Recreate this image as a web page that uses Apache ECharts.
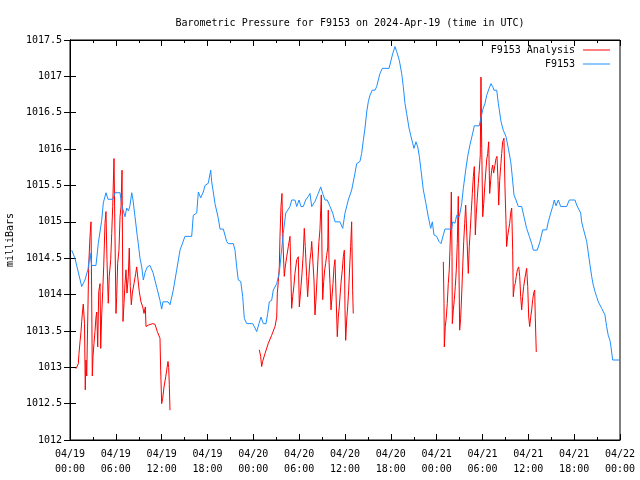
<!DOCTYPE html>
<html>
<head>
<meta charset="utf-8">
<script src="https://cdn.jsdelivr.net/npm/echarts@6/dist/echarts.min.js"></script>
<style>html,body{margin:0;padding:0;background:#fff}#c{width:640px;height:480px}</style>
</head>
<body>
<div id="c"></div>
<script>
// Hours since 2024-04-19 00:00 UTC
var blueHours = [0.22,0.65,1.53,1.96,2.36,2.62,2.84,3.4,3.7,4.15,4.36,4.71,4.97,5.63,5.89,6.55,6.77,7.2,7.42,7.66,7.85,8.08,8.25,8.51,8.81,8.94,9.16,9.39,9.6,9.82,10.12,10.47,10.87,11.35,11.78,12.0,12.17,12.83,13.09,13.52,13.97,14.4,15.05,15.93,16.14,16.59,16.8,17.11,17.45,17.67,18.1,18.42,18.55,18.76,18.98,19.41,19.64,20.07,20.51,20.72,21.38,21.6,21.82,22.03,22.35,22.61,22.82,23.13,23.92,24.22,24.44,24.74,25.0,25.31,25.66,25.88,26.09,26.4,26.61,27.06,27.4,27.92,28.24,28.5,28.8,29.02,29.45,29.68,29.98,30.24,30.54,30.85,31.2,31.42,31.64,32.07,32.5,32.82,33.08,33.38,33.68,34.04,34.39,34.69,35.34,35.7,36.0,36.43,36.88,37.31,37.53,37.96,38.18,38.4,38.62,38.84,39.05,39.27,39.57,39.93,40.15,40.36,40.58,40.88,41.76,41.98,42.24,42.54,42.77,43.11,43.42,43.63,43.85,44.07,44.38,44.6,44.86,45.03,45.29,45.52,45.73,45.95,46.25,46.6,46.9,47.22,47.43,47.65,48.0,48.3,48.57,48.87,49.09,49.97,50.1,50.4,50.62,50.96,51.28,51.49,51.8,52.06,52.36,52.72,52.92,53.58,53.76,54.03,54.33,54.55,54.85,55.11,55.33,55.5,55.86,56.07,56.2,56.42,56.72,57.08,57.38,57.69,57.9,58.12,58.38,58.69,59.13,59.43,59.78,60.13,60.44,60.65,61.17,61.53,61.88,62.4,62.61,62.93,63.19,63.4,63.62,63.92,64.24,65.02,65.36,66.11,66.33,66.54,66.85,66.98,67.19,67.42,67.64,67.85,68.07,68.29,68.5,68.73,68.94,69.16,69.38,69.6,69.81,70.03,70.25,70.46,70.69,70.82,71.04,72.0];
var blueValues = [1014.61,1014.5,1014.11,1014.2,1014.35,1014.57,1014.4,1014.4,1014.7,1015.02,1015.26,1015.4,1015.31,1015.31,1015.4,1015.4,1015.23,1015.07,1015.19,1015.15,1015.22,1015.4,1015.3,1015.07,1014.8,1014.7,1014.5,1014.38,1014.2,1014.3,1014.38,1014.4,1014.3,1014.1,1013.92,1013.8,1013.9,1013.9,1013.86,1014.06,1014.34,1014.61,1014.8,1014.8,1015.09,1015.12,1015.41,1015.33,1015.41,1015.5,1015.53,1015.71,1015.55,1015.41,1015.25,1015.05,1014.9,1014.9,1014.73,1014.7,1014.7,1014.61,1014.38,1014.2,1014.18,1013.97,1013.67,1013.6,1013.6,1013.54,1013.49,1013.6,1013.69,1013.6,1013.6,1013.74,1013.9,1013.92,1014.06,1014.15,1014.3,1014.84,1015.12,1015.16,1015.21,1015.3,1015.3,1015.21,1015.3,1015.21,1015.21,1015.3,1015.35,1015.39,1015.21,1015.28,1015.39,1015.48,1015.39,1015.3,1015.3,1015.21,1015.12,1015.0,1015.0,1014.91,1015.12,1015.3,1015.44,1015.67,1015.8,1015.83,1015.94,1016.12,1016.29,1016.51,1016.65,1016.74,1016.81,1016.81,1016.86,1016.95,1017.04,1017.11,1017.11,1017.2,1017.31,1017.41,1017.34,1017.22,1017.04,1016.86,1016.63,1016.49,1016.29,1016.19,1016.08,1016.01,1016.1,1016.03,1015.9,1015.71,1015.44,1015.25,1015.07,1014.91,1015.0,1014.82,1014.8,1014.73,1014.7,1014.82,1014.9,1014.9,1015.0,1014.98,1015.09,1015.07,1015.25,1015.46,1015.71,1015.9,1016.06,1016.22,1016.32,1016.32,1016.41,1016.54,1016.63,1016.74,1016.83,1016.9,1016.86,1016.81,1016.81,1016.63,1016.54,1016.38,1016.26,1016.17,1016.01,1015.83,1015.62,1015.37,1015.3,1015.21,1015.21,1015.07,1014.91,1014.8,1014.7,1014.61,1014.61,1014.73,1014.89,1014.89,1015.0,1015.12,1015.21,1015.3,1015.22,1015.3,1015.21,1015.21,1015.3,1015.3,1015.23,1015.21,1015.12,1015.0,1014.91,1014.91,1014.73,1014.57,1014.41,1014.25,1014.13,1014.04,1013.97,1013.9,1013.9,1013.81,1013.79,1013.72,1013.56,1013.44,1013.37,1013.28,1013.1,1013.1];

// Analysis series: null marks a gap in the record
var redHours = [0.79,1.09,1.18,1.31,1.44,1.53,1.66,1.74,1.9,2.0,2.09,2.19,2.32,2.45,2.62,2.75,2.84,2.92,3.01,3.14,3.27,3.4,3.5,3.63,3.76,3.93,4.02,4.15,4.28,4.41,4.58,4.71,4.84,5.01,5.14,5.33,5.46,5.59,5.76,5.89,6.02,6.11,6.24,6.41,6.55,6.68,6.81,6.94,7.07,7.2,7.33,7.46,7.63,7.76,7.89,8.03,8.16,8.38,8.6,8.73,8.94,9.07,9.29,9.52,9.69,9.86,9.95,10.25,10.83,11.13,11.43,11.78,11.87,12.0,12.13,12.31,12.53,12.66,12.83,12.92,13.0,13.09,
  18.0,
  24.78,24.96,25.09,25.22,25.53,25.96,26.4,26.84,27.06,27.14,27.27,27.4,27.49,27.62,27.75,27.84,27.92,28.05,28.18,28.37,28.58,28.8,28.89,29.02,29.15,29.32,29.45,29.68,29.89,30.02,30.2,30.37,30.54,30.67,30.8,30.98,31.11,31.24,31.42,31.55,31.64,31.85,31.94,32.07,32.2,32.33,32.46,32.59,32.72,32.82,32.9,32.99,33.08,33.21,33.34,33.47,33.6,33.74,33.81,33.9,34.04,34.17,34.3,34.43,34.56,34.69,34.82,34.99,35.12,35.25,35.38,35.51,35.65,35.78,35.91,36.0,36.09,36.22,36.35,36.48,36.61,36.74,36.87,37.0,37.08,
  43.0,
  48.87,48.96,49.0,49.13,49.26,49.39,49.52,49.65,49.84,49.92,50.01,50.05,50.18,50.31,50.44,50.57,50.7,50.83,50.92,51.01,51.14,51.28,51.41,51.54,51.67,51.8,52.06,52.14,52.27,52.4,52.53,52.67,52.8,52.93,53.06,53.19,53.32,53.45,53.58,53.71,53.8,53.9,54.03,54.16,54.29,54.42,54.55,54.68,54.81,54.94,55.07,55.2,55.33,55.46,55.63,55.77,55.9,56.03,56.12,56.25,56.38,56.51,56.64,56.81,56.94,57.07,57.16,57.29,57.42,57.56,57.69,57.82,57.95,58.03,58.16,58.29,58.42,58.56,58.74,58.87,59.0,59.13,59.26,59.39,59.52,59.65,59.78,59.92,60.05,60.18,60.31,60.44,60.57,60.7,60.83,60.91,61.04];
var redValues = [1012.98,1013.05,1013.19,1013.35,1013.49,1013.63,1013.79,1013.87,1013.6,1012.69,1013.1,1012.88,1013.65,1014.4,1014.8,1015.0,1013.95,1012.88,1013.15,1013.33,1013.49,1013.69,1013.76,1013.28,1014.04,1014.15,1013.26,1013.72,1014.04,1014.38,1014.98,1015.14,1014.48,1013.88,1014.25,1014.48,1014.84,1015.21,1015.87,1014.8,1013.74,1013.97,1014.43,1014.61,1015.07,1015.21,1015.71,1013.63,1013.88,1014.15,1014.34,1014.02,1014.25,1014.64,1014.11,1013.86,1014.02,1014.15,1014.29,1014.38,1014.38,1014.04,1013.9,1013.83,1013.74,1013.83,1013.56,1013.58,1013.6,1013.59,1013.49,1013.4,1012.96,1012.5,1012.57,1012.73,1012.87,1012.96,1013.08,1013.0,1012.76,1012.41,
  null,
  1013.24,1013.15,1013.01,1013.08,1013.19,1013.33,1013.44,1013.56,1013.69,1014.02,1014.18,1014.38,1014.8,1015.21,1015.39,1014.84,1014.61,1014.25,1014.38,1014.52,1014.66,1014.8,1014.38,1013.81,1013.97,1014.13,1014.29,1014.48,1014.52,1013.83,1014.06,1014.29,1014.57,1014.91,1014.66,1014.25,1013.97,1014.2,1014.48,1014.59,1014.73,1014.73,1014.2,1013.72,1013.93,1014.2,1014.48,1014.73,1014.89,1015.16,1015.37,1014.57,1013.93,1014.18,1014.34,1014.43,1014.54,1014.64,1015.16,1014.48,1014.15,1013.79,1013.97,1014.15,1014.38,1014.48,1014.02,1013.42,1013.69,1013.83,1014.02,1014.2,1014.34,1014.52,1014.61,1013.79,1013.37,1013.65,1013.83,1014.06,1014.38,1014.66,1015.0,1014.06,1013.74,
  null,
  1014.45,1013.88,1013.28,1013.56,1013.69,1013.88,1014.15,1014.34,1014.93,1015.41,1014.52,1013.6,1013.79,1013.93,1014.11,1014.34,1014.7,1015.35,1014.34,1013.51,1013.67,1014.02,1014.38,1014.73,1014.98,1015.23,1015.23,1014.29,1014.66,1014.89,1015.14,1015.39,1015.62,1015.76,1014.82,1015.12,1015.33,1015.53,1015.71,1015.92,1016.99,1016.01,1015.07,1015.25,1015.48,1015.67,1015.85,1015.94,1016.1,1015.39,1015.57,1015.71,1015.78,1015.67,1015.78,1015.87,1015.9,1015.57,1015.23,1015.57,1015.76,1015.94,1016.1,1016.15,1015.48,1015.02,1014.66,1014.8,1014.89,1014.98,1015.12,1015.19,1014.61,1013.97,1014.11,1014.15,1014.25,1014.34,1014.38,1014.25,1013.97,1013.79,1013.97,1014.11,1014.2,1014.29,1014.36,1014.11,1013.69,1013.56,1013.69,1013.79,1013.93,1014.02,1014.06,1013.69,1013.21];

var xTickLabels = ['04/19\n00:00','04/19\n06:00','04/19\n12:00','04/19\n18:00','04/20\n00:00','04/20\n06:00','04/20\n12:00','04/20\n18:00','04/21\n00:00','04/21\n06:00','04/21\n12:00','04/21\n18:00','04/22\n00:00'];

function pairs(xs, ys) {
  var out = [];
  for (var i = 0; i < xs.length; i++) out.push([xs[i], ys[i]]);
  return out;
}

var FONT = 'DejaVu Sans Mono';
var chart = echarts.init(document.getElementById('c'), null, {renderer: 'canvas'});

var tickCommon = {show: true, inside: true, length: 6, lineStyle: {color: '#000', width: 1}};
var minorCommon = {show: true, splitNumber: 2, length: 3, lineStyle: {color: '#000', width: 1}};
var legendText = {fontFamily: FONT, fontSize: 10, color: '#000', padding: [0, 3, 0, 0]};

chart.setOption({
  animation: false,
  backgroundColor: '#fff',
  textStyle: {fontFamily: FONT, color: '#000'},
  title: {
    text: 'Barometric Pressure for F9153 on 2024-Apr-19 (time in UTC)',
    left: 345, top: 13, textAlign: 'center',
    textStyle: {fontFamily: FONT, fontSize: 10, fontWeight: 'normal', color: '#000'}
  },
  legend: [{
    data: ['F9153 Analysis'], right: 30, top: 45, align: 'right', orient: 'vertical', padding: 0,
    itemWidth: 27, itemHeight: 1, itemGap: 4, icon: 'rect', textStyle: legendText
  }, {
    data: ['F9153'], right: 30, top: 59, align: 'right', orient: 'vertical', padding: 0,
    itemWidth: 27, itemHeight: 1, itemGap: 4, icon: 'rect', textStyle: legendText
  }],
  grid: {left: 70, right: 20, top: 40, bottom: 40, containLabel: false, outerBoundsMode: 'none',
         show: true, borderColor: '#000', borderWidth: 1},
  xAxis: [{
    type: 'value', min: 0, max: 72, interval: 6, position: 'bottom',
    axisLine: {show: true, lineStyle: {color: '#000'}},
    axisTick: tickCommon, minorTick: minorCommon,
    splitLine: {show: false},
    axisLabel: {
      fontFamily: FONT, fontSize: 10, color: '#000', margin: 7, lineHeight: 15,
      formatter: function (v) { return xTickLabels[Math.round(v / 6)] || ''; }
    }
  }, {
    type: 'value', min: 0, max: 72, interval: 6, position: 'top',
    axisLine: {show: true, lineStyle: {color: '#000'}},
    axisTick: tickCommon, minorTick: minorCommon,
    splitLine: {show: false}, axisLabel: {show: false}
  }],
  yAxis: [{
    type: 'value', min: 1012, max: 1017.5, interval: 0.5, position: 'left',
    name: 'milliBars', nameLocation: 'middle', nameRotate: 90, nameGap: 53,
    nameTextStyle: {fontFamily: FONT, fontSize: 10, color: '#000'},
    axisLine: {show: true, lineStyle: {color: '#000'}},
    axisTick: tickCommon,
    splitLine: {show: false},
    axisLabel: {fontFamily: FONT, fontSize: 10, color: '#000', margin: 8,
      formatter: function (v) { return String(Math.round(v * 10) / 10); }}
  }, {
    type: 'value', min: 1012, max: 1017.5, interval: 0.5, position: 'right',
    axisLine: {show: true, lineStyle: {color: '#000'}},
    axisTick: tickCommon,
    splitLine: {show: false}, axisLabel: {show: false}
  }],
  series: [{
    name: 'F9153 Analysis', type: 'line', xAxisIndex: 0, yAxisIndex: 0,
    data: pairs(redHours, redValues), connectNulls: false,
    showSymbol: false, symbol: 'none',
    lineStyle: {color: '#ff0000', width: 1}, itemStyle: {color: '#ff0000'}
  }, {
    name: 'F9153', type: 'line', xAxisIndex: 0, yAxisIndex: 0,
    data: pairs(blueHours, blueValues),
    showSymbol: false, symbol: 'none',
    lineStyle: {color: '#1e8fff', width: 1}, itemStyle: {color: '#1e8fff'}
  }]
});
</script>
</body>
</html>
